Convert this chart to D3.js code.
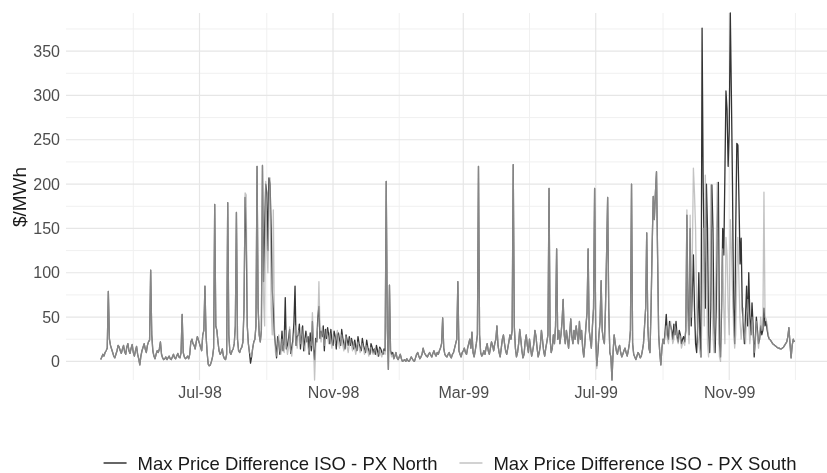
<!DOCTYPE html>
<html>
<head>
<meta charset="utf-8">
<script src="https://cdn.jsdelivr.net/npm/d3@7"></script>
<style>
  body { margin: 0; background: #fff; }
  svg { display: block; font-family: "Liberation Sans", Arial, Helvetica, sans-serif; filter: blur(0.35px); }
</style>
</head>
<body>
<svg width="827" height="473"></svg>
<script>
// daily series, starting 1 Apr 1998
const startDate = new Date(1998, 3, 1);

const south = [
  2, 5, 8, 6, 10, 12, 15, 79, 25, 18,
  14, 10, 6, 4, 8, 12, 18, 16, 12, 9,
  14, 18, 11, 8, 16, 20, 12, 9, 15, 19,
  10, 6, 12, 17, 8, 3, -4, 6, 12, 16,
  20, 14, 10, 18, 22, 24, 103, 30, 12, 6,
  3, 8, 12, 10, 14, 22, 8, 4, 2, 3,
  5, 2, 4, 6, 3, 2, 5, 8, 4, 3,
  6, 9, 5, 4, 10, 53, 10, 5, 3, 4,
  6, 3, 8, 22, 25, 20, 18, 14, 22, 28,
  24, 20, 16, 12, 30, 35, 85, 30, 10, -3,
  -5, -4, 0, 5, 15, 177, 40, 35, 22, 12,
  8, 10, 14, 6, 3, 2, 8, 179, 30, 10,
  8, 12, 14, 20, 40, 168, 25, 12, 10, 14,
  16, 22, 60, 190, 188, 40, 20, 10, 8, 5,
  15, 22, 25, 40, 220, 60, 30, 22, 35, 221,
  70, 40, 203, 130, 100, 180, 207, 60, 30, 171,
  40, 10, 6, 20, 30, 12, 8, 25, 18, 10,
  35, 20, 8, 15, 39, 12, 6, 20, 30, 40,
  25, 15, 35, 30, 20, 38, 28, 18, 12, 25,
  30, 15, 10, 22, 18, 55, 20, -21, 15, 30,
  40, 90, 35, 22, 38, 30, 18, 25, 36, 28,
  20, 32, 24, 15, 30, 26, 20, 28, 35, 22,
  15, 25, 30, 18, 12, 24, 28, 16, 10, 20,
  26, 18, 12, 22, 14, 8, 18, 22, 15, 10,
  16, 20, 14, 8, 15, 18, 12, 6, 14, 16,
  10, 8, 12, 15, 9, 6, 10, 14, 8, 5,
  12, 10, 8, 203, 40, -9, 86, 10, 5, 8,
  3, 6, 10, 4, 2, 5, 8, 3, 0, 1,
  2, 0, 3, 1, 0, 2, 5, 3, 1, 0,
  4, 8, 10, 6, 3, 5, 8, 15, 10, 8,
  6, 5, 8, 10, 7, 5, 9, 12, 8, 6,
  10, 8, 12, 15, 20, 49, 15, 8, 6, 5,
  8, 10, 6, 4, 8, 10, 15, 20, 25, 90,
  12, 8, 5, 10, 12, 15, 10, 8, 15, 20,
  25, 15, 33, 10, 5, 12, 20, 30, 220, 30,
  10, 6, 8, 12, 8, 15, 20, 12, 8, 15,
  22, 18, 12, 20, 25, 40, 18, 10, 5, 15,
  25, 30, 20, 12, 8, 15, 22, 30, 25, 35,
  222, 40, 15, 5, 10, 20, 36, 25, 12, 4,
  8, 22, 30, 18, 10, 25, 15, 6, 12, 20,
  35, 28, 15, 5, 10, 18, 35, 24, 12, 6,
  15, 22, 30, 195, 25, 10, 15, 30, 20, 40,
  127, 25, 35, 20, 30, 45, 70, 30, 20, 35,
  25, 15, 30, 48, 28, 20, 35, 25, 40, 30,
  20, 45, 25, 35, 15, 5, 20, 40, 55, 127,
  35, 25, 15, 40, 60, 195, 30, -8, 15, 30,
  45, 91, 35, 25, 20, 60, 120, 185, 60, 10,
  5, -21, 10, 30, 20, 12, 8, 15, 18, 10,
  5, 8, 12, 15, 10, 6, 12, 20, 35, 200,
  20, 8, 5, 2, 6, 10, 8, 4, 6, 12,
  20, 40, 60, 145, 40, 15, 10, 60, 130, 186,
  160, 190, 214, 120, 30, 10, -4, 15, 25, 20,
  30, 40, 25, 20, 35, 45, 30, 20, 25, 40,
  35, 25, 20, 30, 28, 15, 20, 22, 18, 40,
  171, 40, 20, 165, 50, 120, 218, 190, 150, 60,
  30, 20, 10, 5, 60, 150, 40, 210, 120, 20,
  5, 60, 199, 150, 30, 10, 40, 120, 202, 60,
  5, 0, 80, 127, 60, 20, 140, 120, 60, 30,
  160, 127, 80, 40, 15, 30, 100, 140, 90, 45,
  25, 40, 60, 30, 20, 50, 70, 45, 20, 35,
  50, 30, 10, 20, 45, 30, 15, 30, 50, 35,
  40, 191, 50, 48, 40, 30, 25, 24, 22, 20,
  19, 18, 17, 16, 15, 15, 14, 14, 15, 16,
  18, 20, 22, 28, 38, 20, 4, 18, 25, 22
];

const north = [
  2, 5, 8, 6, 10, 12, 15, 79, 25, 18,
  14, 10, 6, 4, 8, 12, 18, 16, 12, 9,
  14, 18, 11, 8, 16, 20, 12, 9, 15, 19,
  10, 6, 12, 17, 8, 3, -4, 6, 12, 16,
  20, 14, 10, 18, 22, 24, 103, 30, 12, 6,
  3, 8, 12, 10, 14, 22, 8, 4, 2, 3,
  5, 2, 4, 6, 3, 2, 5, 8, 4, 3,
  6, 9, 5, 4, 10, 53, 10, 5, 3, 4,
  6, 3, 8, 22, 25, 20, 18, 14, 22, 28,
  24, 20, 16, 12, 30, 35, 85, 30, 10, -3,
  -5, -4, 0, 5, 15, 177, 40, 35, 22, 12,
  8, 10, 14, 6, 3, 2, 8, 179, 30, 10,
  8, 12, 14, 20, 40, 168, 25, 12, 10, 14,
  16, 22, 60, 185, 145, 40, 20, 10, -2, 5,
  15, 22, 25, 40, 220, 60, 30, 22, 35, 221,
  90, 150, 200, 190, 125, 207, 200, 150, 80, 60,
  30, 18, 4, 28, 22, 8, 14, 34, 12, 20,
  72, 14, 18, 26, 36, 9, 16, 24, 44, 85,
  18, 28, 30, 42, 14, 30, 40, 12, 24, 34,
  22, 28, 8, 32, 12, 45, 14, 2, 26, 22,
  50, 62, 26, 34, 28, 40, 12, 36, 26, 38,
  30, 20, 36, 22, 18, 34, 28, 14, 30, 32,
  24, 18, 36, 26, 20, 14, 30, 24, 18, 28,
  18, 26, 20, 14, 24, 16, 12, 28, 20, 16,
  12, 26, 18, 14, 10, 24, 16, 12, 8, 20,
  16, 10, 14, 8, 18, 12, 6, 16, 14, 10,
  8, 14, 12, 203, 38, -9, 86, 12, 8, 10,
  3, 6, 10, 4, 2, 5, 8, 3, 0, 1,
  2, 0, 3, 1, 0, 2, 5, 3, 1, 0,
  4, 8, 10, 6, 3, 5, 8, 15, 10, 8,
  6, 5, 8, 10, 7, 5, 9, 12, 8, 6,
  10, 8, 12, 15, 20, 49, 15, 8, 6, 5,
  8, 10, 6, 4, 8, 10, 15, 20, 25, 90,
  12, 8, 5, 10, 12, 15, 10, 8, 15, 20,
  25, 15, 33, 10, 5, 12, 20, 30, 220, 30,
  10, 6, 8, 12, 8, 15, 20, 12, 8, 15,
  22, 18, 12, 20, 25, 40, 18, 10, 5, 15,
  25, 30, 20, 12, 8, 15, 22, 30, 25, 35,
  222, 40, 15, 5, 10, 20, 36, 25, 12, 4,
  8, 22, 30, 18, 10, 25, 15, 6, 12, 20,
  35, 28, 15, 5, 10, 18, 35, 24, 12, 6,
  15, 22, 30, 195, 25, 10, 15, 30, 20, 40,
  127, 25, 35, 20, 30, 45, 70, 30, 20, 35,
  25, 15, 30, 48, 28, 20, 35, 25, 40, 30,
  20, 45, 25, 35, 15, 5, 20, 40, 55, 127,
  35, 25, 15, 40, 60, 195, 30, -5, 10, 30,
  45, 91, 35, 25, 20, 60, 120, 185, 60, 10,
  5, -21, 10, 30, 20, 12, 8, 15, 18, 10,
  5, 8, 12, 15, 10, 6, 12, 20, 35, 200,
  20, 8, 5, 2, 6, 10, 8, 4, 6, 12,
  20, 40, 60, 145, 40, 15, 10, 60, 130, 186,
  160, 190, 214, 120, 30, 10, -4, 15, 25, 20,
  35, 53, 30, 25, 45, 40, 35, 25, 42, 30,
  45, 28, 22, 35, 30, 20, 25, 28, 22, 35,
  165, 60, 30, 150, 40, 80, 120, 60, 20, 10,
  40, 100, 30, 5, 376, 201, 120, 60, 200, 150,
  30, 10, 60, 199, 150, 40, 10, 60, 150, 202,
  20, 5, 60, 150, 120, 210, 305, 284, 220, 260,
  393, 300, 200, 60, 20, 150, 246, 244, 180, 110,
  139, 60, 40, 20, 50, 85, 40, 100, 50, 30,
  66, 40, 5, 25, 50, 35, 20, 25, 40, 30,
  35, 60, 40, 45, 35, 28, 25, 24, 22, 20,
  19, 18, 17, 16, 15, 15, 14, 14, 15, 16,
  18, 20, 22, 28, 38, 20, 4, 18, 25, 22
];

const yTicks = [0, 50, 100, 150, 200, 250, 300, 350];
const yMinor = [25, 75, 125, 175, 225, 275, 325, 375];
const xTicks = [new Date(1998, 6, 1), new Date(1998, 10, 1), new Date(1999, 2, 1), new Date(1999, 6, 1), new Date(1999, 10, 1)];
const xMinor = [new Date(1998, 4, 1), new Date(1998, 8, 1), new Date(1999, 0, 1), new Date(1999, 4, 1), new Date(1999, 8, 1), new Date(2000, 0, 1)];
const seriesNames = ["Max Price Difference ISO - PX North", "Max Price Difference ISO - PX South"];

const svg = d3.select("svg");
const panel = { left: 66, right: 828, top: 13, bottom: 380 };

const x = d3.scaleTime()
  .domain([new Date(1998, 1, 28), new Date(2000, 0, 31)])
  .range([panel.left, panel.right]);
const y = d3.scaleLinear()
  .domain([-21, 393])
  .range([panel.bottom, panel.top]);

const toPoints = arr => arr.map((v, i) => ({ date: d3.timeDay.offset(startDate, i), v }));

// grid
const grid = svg.append("g");
grid.selectAll(".ymin").data(yMinor).join("line")
  .attr("x1", panel.left).attr("x2", 827)
  .attr("y1", d => y(d)).attr("y2", d => y(d))
  .attr("stroke", "#f0f0f0").attr("stroke-width", 1);
grid.selectAll(".xmin").data(xMinor).join("line")
  .attr("x1", d => x(d)).attr("x2", d => x(d))
  .attr("y1", panel.top).attr("y2", panel.bottom)
  .attr("stroke", "#f0f0f0").attr("stroke-width", 1);
grid.selectAll(".ymaj").data(yTicks).join("line")
  .attr("x1", panel.left).attr("x2", 827)
  .attr("y1", d => y(d)).attr("y2", d => y(d))
  .attr("stroke", "#e6e6e6").attr("stroke-width", 1.2);
grid.selectAll(".xmaj").data(xTicks).join("line")
  .attr("x1", d => x(d)).attr("x2", d => x(d))
  .attr("y1", panel.top).attr("y2", panel.bottom)
  .attr("stroke", "#e6e6e6").attr("stroke-width", 1.2);

// axes (labels only, theme_minimal style)
const yAxis = svg.append("g")
  .attr("transform", `translate(${panel.left - 6},0)`)
  .call(d3.axisLeft(y).tickValues(yTicks).tickSize(0).tickPadding(0));
const xAxis = svg.append("g")
  .attr("transform", `translate(0,${panel.bottom + 7})`)
  .call(d3.axisBottom(x).tickValues(xTicks).tickSize(0).tickPadding(0).tickFormat(d3.timeFormat("%b-%y")));
[yAxis, xAxis].forEach(g => {
  g.select(".domain").remove();
  g.selectAll("text").attr("font-size", 16).attr("fill", "#4d4d4d")
    .attr("font-family", "'Liberation Sans', Arial, sans-serif");
});
xAxis.selectAll("text").attr("dy", "0.71em");

svg.append("text")
  .attr("transform", `translate(26,197) rotate(-90)`)
  .attr("text-anchor", "middle")
  .attr("font-size", 19)
  .attr("fill", "#1a1a1a")
  .text("$/MWh");

// lines
const line = d3.line().x(d => x(d.date)).y(d => y(d.v));
svg.append("path").datum(toPoints(north))
  .attr("d", line).attr("fill", "none")
  .attr("stroke", "#333333").attr("stroke-width", 1.3).attr("stroke-linejoin", "round");
svg.append("path").datum(toPoints(south))
  .attr("d", line).attr("fill", "none")
  .attr("stroke", "#aaaaaa").attr("stroke-opacity", 0.7).attr("stroke-width", 1.3).attr("stroke-linejoin", "round");

// legend
const keyColors = ["#333333", "#c3c3c3"];
const legend = svg.append("g").attr("transform", "translate(0,463)");
const items = legend.selectAll("g").data(seriesNames).join("g");
items.append("line").attr("x1", 0).attr("x2", 23).attr("y1", 0).attr("y2", 0)
  .attr("stroke", (d, i) => keyColors[i]).attr("stroke-width", 1.5);
items.append("text").attr("x", 34).attr("dy", "0.36em")
  .attr("font-size", 18.5).attr("fill", "#1a1a1a").text(d => d);
const widths = [];
items.each(function () { widths.push(this.getBBox().width); });
const gap = 22;
const total = d3.sum(widths) + gap * (widths.length - 1);
let cx = (panel.left + panel.right) / 2 + 3 - total / 2;
items.attr("transform", (d, i) => {
  const t = `translate(${cx},0)`;
  cx += widths[i] + gap;
  return t;
});
</script>
</body>
</html>
